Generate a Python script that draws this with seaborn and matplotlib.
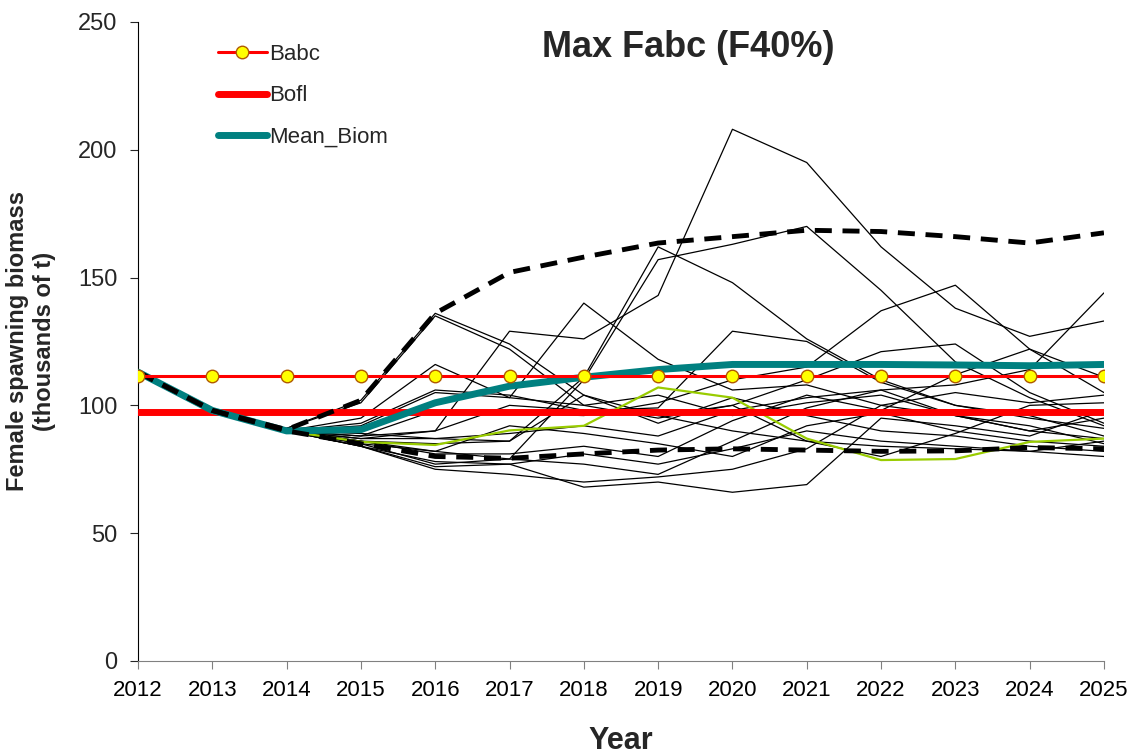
import numpy as np
import pandas as pd
import matplotlib
matplotlib.use("Agg")
import matplotlib.pyplot as plt
import seaborn as sns

# ---------------- data ----------------
years = list(range(2012, 2026))

babc = [111.3] * 14
bofl = [97.3] * 14
mean_biom = [113, 98, 90, 90.5, 101, 107.5, 111, 114, 116, 116, 116, 115.8, 115.5, 116]
upper_ci = [113, 98, 90.5, 102, 136, 152, 158, 163.5, 166, 168.5, 168, 166, 163.5, 167.5]
lower_ci = [113, 98, 90, 85, 80, 79.3, 81, 82.5, 83, 82.5, 82, 82.2, 83.5, 83]
green_run = [113, 98, 90, 85.7, 84.5, 90.2, 92, 107, 103, 87, 78.6, 79, 85.7, 87]

# individual simulation runs (thin black lines)
sims = {
    "s01": [113, 98, 90, 88, 90, 129, 126, 143, 208, 195, 162, 138, 127, 133],
    "s02": [113, 98, 90, 86, 82, 79, 110, 157, 163, 170, 145, 117, 103, 92],
    "s03": [113, 98, 90, 89, 87, 86, 111, 162, 148, 126, 110, 100, 95, 91],
    "s04": [113, 98, 91, 102, 136, 124, 104, 96, 90, 86, 84, 83, 82, 80],
    "s05": [113, 98, 91, 101, 135, 122, 100, 95, 100, 110, 121, 124, 105, 93],
    "s06": [113, 98, 90, 95, 116, 103, 140, 118, 106, 108, 100, 96, 92, 85],
    "s07": [113, 98, 90, 93, 106, 104, 98, 99, 129, 125, 109, 100, 96, 88],
    "s08": [113, 98, 90, 92, 105, 103, 100, 104, 96, 101, 104, 96, 90, 87],
    "s09": [113, 98, 90, 88, 98, 97, 96, 101, 110, 115, 137, 147, 122, 105],
    "s10": [113, 98, 90, 87, 87, 89, 92, 88, 98, 103, 106, 108, 114, 144],
    "s11": [113, 98, 90, 86, 81, 81, 84, 80, 94, 104, 98, 112, 122, 111],
    "s12": [113, 98, 90, 85, 77, 79, 77, 73, 86, 99, 106, 96, 90, 95],
    "s13": [113, 98, 90, 84, 75, 73, 70, 72, 75, 83, 100, 105, 101, 104],
    "s14": [113, 98, 90, 84, 76, 77, 68, 70, 66, 69, 95, 92, 88, 98],
    "s15": [113, 98, 90, 85, 82, 92, 89, 85, 80, 92, 97, 90, 86, 84],
    "s16": [113, 98, 90, 86, 85, 86, 104, 93, 103, 96, 90, 88, 84, 82],
    "s17": [113, 98, 90, 84, 78, 77, 81, 77, 83, 90, 86, 84, 82, 86],
    "s18": [113, 98, 90, 87, 90, 100, 98, 96, 100, 86, 80, 89, 100, 101],
}

sim_df = pd.DataFrame(
    [(name, y, v) for name, vals in sims.items() for y, v in zip(years, vals)],
    columns=["sim", "year", "biomass"],
)

# ---------------- plot ----------------
sns.set_style("ticks")
plt.rcParams["font.family"] = ["Liberation Sans", "DejaVu Sans"]

fig = plt.figure(figsize=(11.34, 7.56), dpi=100)
ax = fig.add_axes([0.1217, 0.1257, 0.8518, 0.8453])

sns.lineplot(data=sim_df, x="year", y="biomass", units="sim", estimator=None,
             color="black", lw=0.9, ax=ax, legend=False)
sns.lineplot(x=years, y=green_run, color="#99cc00", lw=1.6, ax=ax)
sns.lineplot(x=years, y=bofl, color="red", lw=5, ax=ax, label="Bofl", zorder=4)
sns.lineplot(x=years, y=babc, color="red", lw=2.2, ax=ax, label="Babc",
             marker="o", markersize=9, markerfacecolor="#ffff00",
             markeredgecolor="#b05a00", markeredgewidth=1, zorder=6)
sns.lineplot(x=years, y=mean_biom, color="#008080", lw=5, ax=ax,
             label="Mean_Biom", zorder=5)
for ci in (upper_ci, lower_ci):
    sns.lineplot(x=years, y=ci, color="black", lw=3.5, ax=ax, zorder=5,
                 dashes=False).lines[-1].set_dashes([3.5, 2.2])

ax.set_xlim(2012, 2025)
ax.set_ylim(0, 250)
ax.set_xticks(years)
ax.set_yticks(range(0, 251, 50))
ax.tick_params(axis="both", labelsize=16, length=6, direction="out")
ax.tick_params(axis="y", labelsize=17, pad=9)
ax.tick_params(axis="x", colors="#808080", labelcolor="black", pad=8)
ax.spines["top"].set_visible(False)
ax.spines["right"].set_visible(False)
ax.spines["bottom"].set_color("#808080")
ax.spines["left"].set_color("black")

ax.set_xlabel("Year", fontsize=22, fontweight="bold", labelpad=18)
ax.set_ylabel("Female spawning biomass\n(thousands of t)", fontsize=17,
              fontweight="bold", labelpad=16)

ax.text(0.57, 0.96, "Max Fabc (F40%)", transform=ax.transAxes, ha="center",
        va="center", fontsize=26, fontweight="bold")

handles, labels = ax.get_legend_handles_labels()
order = [labels.index(n) for n in ("Babc", "Bofl", "Mean_Biom")]
ax.legend([handles[i] for i in order], [labels[i] for i in order],
          loc="upper left", bbox_to_anchor=(0.062, 0.997), frameon=False,
          fontsize=16, labelspacing=0.92, handlelength=2.2, handletextpad=0.1)

fig.savefig("out.png", dpi=100)
